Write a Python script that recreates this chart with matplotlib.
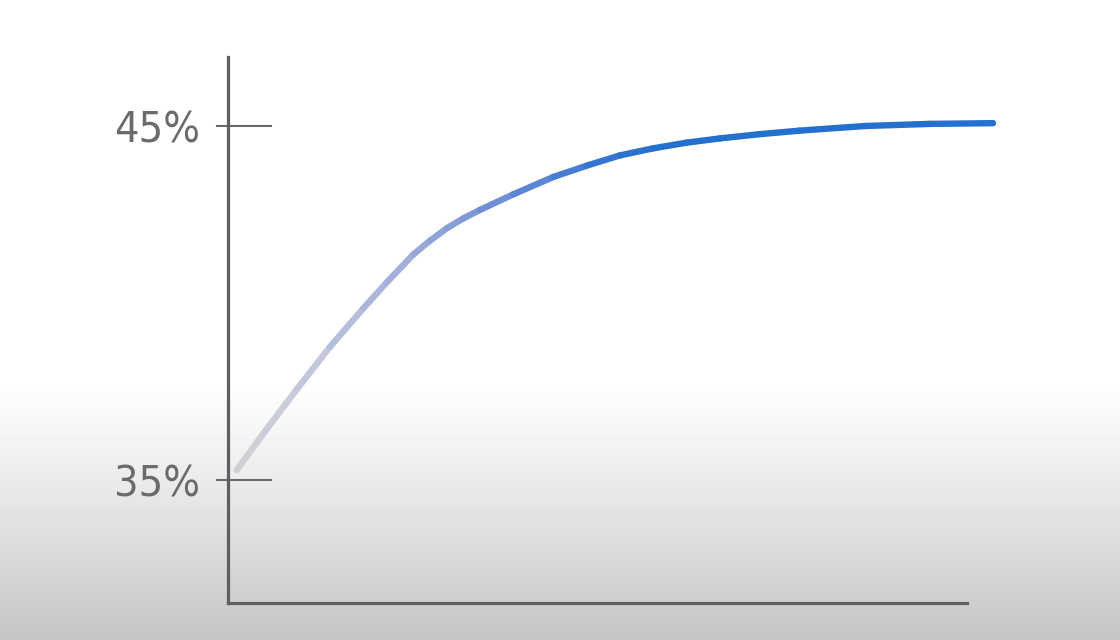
import matplotlib
matplotlib.use("Agg")
import matplotlib.pyplot as plt
import numpy as np
from matplotlib.collections import LineCollection
from matplotlib.colors import LinearSegmentedColormap

# time axis in arbitrary units (0..100 spans the drawn x axis)
time_units = [1.18, 4.78, 9.30, 13.80, 18.31, 21.47, 25.07, 27.33, 29.59,
              31.84, 34.10, 38.61, 44.02, 48.54, 53.04, 57.55, 62.07, 66.58,
              71.99, 77.40, 86.20, 94.99, 103.52]
share_pct = [35.28, 36.31, 37.56, 38.76, 39.85, 40.58, 41.37, 41.76, 42.11,
             42.39, 42.63, 43.07, 43.56, 43.88, 44.17, 44.37, 44.53, 44.65,
             44.77, 44.87, 45.00, 45.06, 45.08]
tick_values = [35, 45]
tick_labels = ["35%", "45%"]

W, H = 1120, 640
fig = plt.figure(figsize=(W / 100, H / 100), dpi=100)

# background: white top, grey fade toward the bottom
bg = fig.add_axes([0, 0, 1, 1])
rows = np.linspace(0, 1, 320)
t = np.clip((rows - 0.59) / 0.41, 0, 1)
shade = 1.0 - 0.23 * t ** 1.15
img = np.repeat(shade[:, None], 2, axis=1)
bg.imshow(img, cmap="gray", vmin=0, vmax=1, aspect="auto",
          extent=[0, 1, 0, 1], origin="upper")
bg.set_axis_off()

left, right, top, bottom = 228, 1000, 57, 603
ax = fig.add_axes([left / W, 1 - bottom / H, (right - left) / W, (bottom - top) / H])
ax.patch.set_alpha(0)

px_per_unit = 7.39
px_per_pct = 35.4
ax.set_xlim(0, (right - left) / px_per_unit)
ax.set_ylim(35 - (bottom - 480) / px_per_pct, 45 + (126 - top) / px_per_pct)

for s in ["top", "right"]:
    ax.spines[s].set_visible(False)
for s in ["left", "bottom"]:
    ax.spines[s].set_color("#5f5f5f")
    ax.spines[s].set_linewidth(2.3)
ax.spines["bottom"].set_bounds(0, (967 - left) / px_per_unit)
ax.set_xticks([])
ax.set_yticks(tick_values)
ax.set_yticklabels(tick_labels)
ax.tick_params(axis="y", length=0, pad=20, labelcolor="#6b6b6b")
for lab in ax.get_yticklabels():
    lab.set_fontfamily(["DejaVu Sans"])
    lab.set_fontstretch("condensed")
    lab.set_fontsize(31)

# tick lines crossing the y axis
width_px = right - left
for v in tick_values:
    ax.plot([-11 / width_px, 43 / width_px], [v, v], color="#6a6a6a", lw=1.5,
            transform=ax.get_yaxis_transform(), clip_on=False)

# gradient curve
x = np.array(time_units)
y = np.array(share_pct)
pts = np.column_stack([x, y]).reshape(-1, 1, 2)
segs = np.concatenate([pts[:-1], pts[1:]], axis=1)
stops = [(0.0, "#d2d2d2"), (10 / 60, "#c6cadc"), (23 / 60, "#a3b0da"),
         (30 / 60, "#8ba0d8"), (37 / 60, "#6e8ed6"), (45 / 60, "#4a7fd3"),
         (53 / 60, "#2f73d0"), (1.0, "#2470cf")]
cmap = LinearSegmentedColormap.from_list("fade", stops)
mid = (x[:-1] + x[1:]) / 2
lc = LineCollection(segs, cmap=cmap, norm=plt.Normalize(0, 60),
                    linewidths=4.6, capstyle="round", joinstyle="round",
                    clip_on=False)
lc.set_array(np.clip(mid, 0, 60))
ax.add_collection(lc)

fig.savefig("out.png", dpi=100)
